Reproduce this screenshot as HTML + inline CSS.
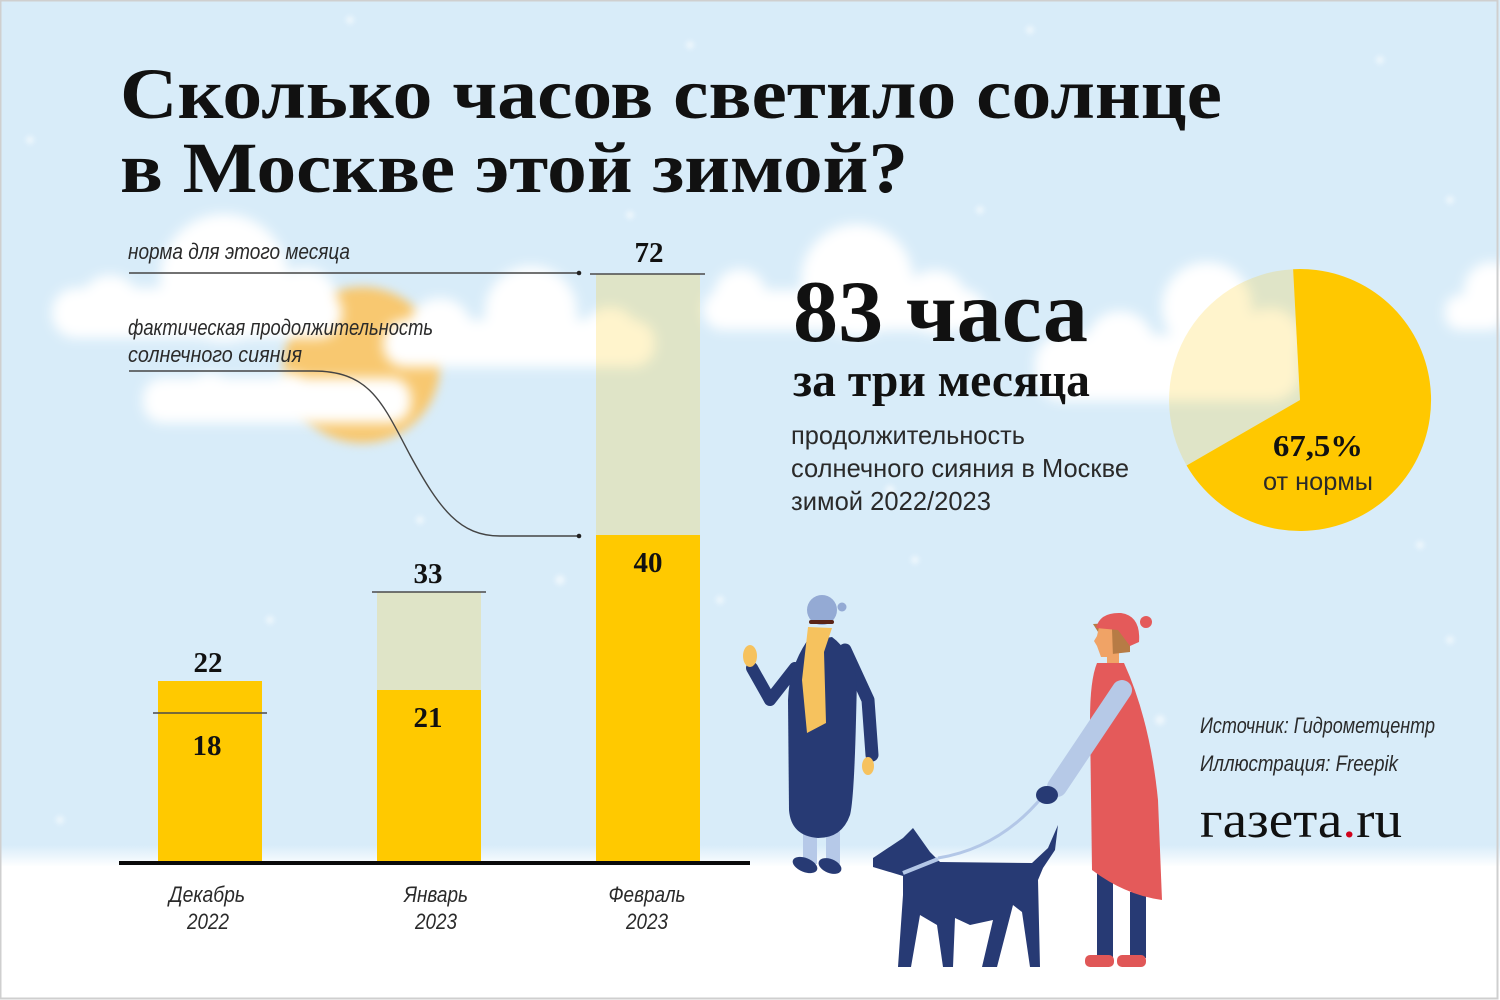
<!DOCTYPE html>
<html><head><meta charset="utf-8"><style>
html,body{margin:0;padding:0;background:#fff;}
svg{display:block;}
.serif{font-family:"Liberation Serif","DejaVu Serif",serif;font-weight:bold;fill:#111;}
.sans{font-family:"Liberation Sans Narrow","Liberation Sans","DejaVu Sans",sans-serif;fill:#2a2a2a;}
.it{font-style:italic;}
</style></head><body>
<svg width="1500" height="1000" viewBox="0 0 1500 1000" xmlns="http://www.w3.org/2000/svg">
<defs>
<filter id="blur" x="-20%" y="-20%" width="140%" height="140%"><feGaussianBlur stdDeviation="6"/></filter>
<filter id="blurs" x="-20%" y="-20%" width="140%" height="140%"><feGaussianBlur stdDeviation="5"/></filter>
<filter id="blur2" x="-50%" y="-50%" width="200%" height="200%"><feGaussianBlur stdDeviation="2.5"/></filter>
<linearGradient id="ground" x1="0" y1="0" x2="0" y2="1">
<stop offset="0" stop-color="#d8ecf9"/><stop offset="1" stop-color="#ffffff"/>
</linearGradient>
</defs>
<rect x="0" y="0" width="1500" height="1000" fill="#d8ecf9"/>
<rect x="0" y="845" width="1500" height="22" fill="url(#ground)"/>
<rect x="0" y="866" width="1500" height="134" fill="#ffffff"/>

<!-- sun -->
<circle cx="362" cy="365" r="78" fill="#f8c870" filter="url(#blurs)"/>

<!-- clouds -->
<g fill="#ffffff" filter="url(#blur)">
 <circle cx="224" cy="278" r="64"/>
 <circle cx="110" cy="305" r="30"/>
 <circle cx="305" cy="300" r="32"/>
 <rect x="52" y="288" width="290" height="50" rx="24"/>
 <circle cx="531" cy="312" r="46"/>
 <circle cx="440" cy="330" r="32"/>
 <circle cx="610" cy="335" r="28"/>
 <rect x="383" y="320" width="272" height="47" rx="22"/>
 <circle cx="210" cy="398" r="25"/>
 <circle cx="290" cy="395" r="22"/>
 <rect x="143" y="378" width="268" height="45" rx="20"/>
 <circle cx="857" cy="280" r="56"/>
 <circle cx="740" cy="295" r="26"/>
 <circle cx="935" cy="302" r="32"/>
 <rect x="703" y="290" width="282" height="40" rx="20"/>
 <circle cx="1207" cy="307" r="45"/>
 <circle cx="1120" cy="345" r="34"/>
 <circle cx="1270" cy="340" r="32"/>
 <rect x="1035" y="335" width="265" height="66" rx="28"/>
 <circle cx="1492" cy="290" r="28"/>
 <rect x="1445" y="295" width="60" height="35" rx="15"/>
</g>

<!-- snowflakes -->
<g fill="#ffffff" opacity="0.55" filter="url(#blur2)">
 <circle cx="350" cy="20" r="4"/><circle cx="690" cy="45" r="4"/><circle cx="1030" cy="30" r="4"/>
 <circle cx="1380" cy="60" r="4"/><circle cx="30" cy="140" r="4"/><circle cx="1450" cy="200" r="4"/>
 <circle cx="630" cy="215" r="4"/><circle cx="980" cy="210" r="4"/><circle cx="560" cy="580" r="5"/>
 <circle cx="915" cy="560" r="4"/><circle cx="1160" cy="720" r="5"/><circle cx="270" cy="620" r="4"/>
 <circle cx="420" cy="520" r="4"/><circle cx="720" cy="600" r="4"/><circle cx="1450" cy="640" r="4"/>
 <circle cx="890" cy="490" r="5"/><circle cx="1420" cy="545" r="4"/><circle cx="60" cy="820" r="4"/>
</g>

<!-- pie -->
<path d="M1300,400 L1186.6,465.5 A131,131 0 0 1 1293.1,269.2 Z" fill="#ffc800" opacity="0.2"/>
<path d="M1300,400 L1293.1,269.2 A131,131 0 1 1 1186.6,465.5 Z" fill="#ffc800"/>
<text class="serif" x="1318" y="456" font-size="31" text-anchor="middle" textLength="90" lengthAdjust="spacingAndGlyphs">67,5%</text>
<text class="sans" x="1318" y="490" font-size="25" text-anchor="middle" textLength="110" lengthAdjust="spacingAndGlyphs">от нормы</text>

<!-- title -->
<text class="serif" x="120" y="118" font-size="72" textLength="1102" lengthAdjust="spacingAndGlyphs">Сколько часов светило солнце</text>
<text class="serif" x="120" y="192" font-size="72" textLength="788" lengthAdjust="spacingAndGlyphs">в Москве этой зимой?</text>

<!-- right block -->
<text class="serif" x="793" y="341" font-size="88" textLength="295" lengthAdjust="spacingAndGlyphs">83 часа</text>
<text class="serif" x="793" y="396" font-size="48" textLength="297" lengthAdjust="spacingAndGlyphs">за три месяца</text>
<text class="sans" x="791" y="444" font-size="26" textLength="234" lengthAdjust="spacingAndGlyphs">продолжительность</text>
<text class="sans" x="791" y="477" font-size="26" textLength="338" lengthAdjust="spacingAndGlyphs">солнечного сияния в Москве</text>
<text class="sans" x="791" y="510" font-size="26" textLength="200" lengthAdjust="spacingAndGlyphs">зимой 2022/2023</text>

<!-- annotations -->
<text class="sans it" x="128" y="259" font-size="22" textLength="222" lengthAdjust="spacingAndGlyphs">норма для этого месяца</text>
<text class="sans it" x="128" y="335" font-size="22" textLength="305" lengthAdjust="spacingAndGlyphs">фактическая продолжительность</text>
<text class="sans it" x="128" y="362" font-size="22" textLength="174" lengthAdjust="spacingAndGlyphs">солнечного сияния</text>
<g stroke="#444" stroke-width="1.4" fill="none">
 <line x1="129" y1="273" x2="579" y2="273"/>
 <path d="M129,371 H313 C370,371 382,402 410,455 C440,510 460,536 500,536 H579"/>
</g>
<circle cx="579" cy="273" r="2.3" fill="#222"/>
<circle cx="579" cy="536" r="2.3" fill="#222"/>

<!-- bars -->
<rect x="158" y="681" width="104" height="181" fill="#ffc900"/>
<rect x="377" y="592" width="104" height="98" fill="#ffc800" opacity="0.2"/>
<rect x="377" y="690" width="104" height="172" fill="#ffc900"/>
<rect x="596" y="274" width="104" height="261" fill="#ffc800" opacity="0.2"/>
<rect x="596" y="535" width="104" height="327" fill="#ffc900"/>
<g stroke="#4a4a4a" stroke-width="1.5">
 <line x1="153" y1="713" x2="267" y2="713"/>
 <line x1="372" y1="592" x2="486" y2="592"/>
 <line x1="590" y1="274" x2="705" y2="274"/>
</g>
<rect x="119" y="861" width="631" height="4" fill="#0a0a0a"/>
<g class="serif" font-size="29" text-anchor="middle">
 <text x="208" y="672">22</text>
 <text x="207" y="755">18</text>
 <text x="428" y="583">33</text>
 <text x="428" y="727">21</text>
 <text x="649" y="262">72</text>
 <text x="648" y="572">40</text>
</g>
<g class="sans it" font-size="22" text-anchor="middle">
 <text x="207" y="902" textLength="76" lengthAdjust="spacingAndGlyphs">Декабрь</text>
 <text x="208" y="929" textLength="42" lengthAdjust="spacingAndGlyphs">2022</text>
 <text x="436" y="902" textLength="64" lengthAdjust="spacingAndGlyphs">Январь</text>
 <text x="436" y="929" textLength="42" lengthAdjust="spacingAndGlyphs">2023</text>
 <text x="647" y="902" textLength="77" lengthAdjust="spacingAndGlyphs">Февраль</text>
 <text x="647" y="929" textLength="42" lengthAdjust="spacingAndGlyphs">2023</text>
</g>

<!-- source -->
<text class="sans it" x="1200" y="733" font-size="22" textLength="235" lengthAdjust="spacingAndGlyphs" fill="#333">Источник: Гидрометцентр</text>
<text class="sans it" x="1200" y="771" font-size="22" textLength="198" lengthAdjust="spacingAndGlyphs" fill="#333">Иллюстрация: Freepik</text>
<text x="1200" y="837" font-size="52" font-family="Liberation Serif, DejaVu Serif, serif" fill="#111" textLength="202" lengthAdjust="spacingAndGlyphs">газета<tspan fill="#d0021b">.</tspan>ru</text>

<!-- person 1 -->
<g>
 <rect x="803" y="830" width="14" height="34" fill="#b6c9e8"/>
 <rect x="826" y="830" width="14" height="34" fill="#b6c9e8"/>
 <ellipse cx="805" cy="865" rx="13" ry="7" transform="rotate(22 805 865)" fill="#273a74"/>
 <ellipse cx="830" cy="866" rx="12" ry="7" transform="rotate(22 830 866)" fill="#273a74"/>
 <path d="M795,668 L770,700 L752,668" stroke="#273a74" stroke-width="12" fill="none" stroke-linecap="round" stroke-linejoin="round"/>
 <ellipse cx="750" cy="656" rx="7" ry="11" fill="#f6c25e"/>
 <path d="M845,650 L868,700 L872,755" stroke="#273a74" stroke-width="13" fill="none" stroke-linecap="round" stroke-linejoin="round"/>
 <ellipse cx="868" cy="766" rx="6" ry="9" fill="#f6c25e"/>
 <path d="M807,641 L832,637 Q850,650 857,680 L856,720 Q854,800 850,815 Q842,838 818,838 Q791,836 789,810 L788,700 Q789,668 807,641 Z" fill="#273a74"/>
 <path d="M808,627 L832,628 L824,652 L826,723 L807,733 L802,680 Z" fill="#f6c25e"/>
 <circle cx="822" cy="610" r="15" fill="#94aad4"/>
 <circle cx="842" cy="607" r="4.5" fill="#94aad4"/>
 <rect x="809" y="620" width="25" height="4" rx="2" fill="#5a2418"/>
</g>

<!-- dog -->
<path d="M938,858 Q1000,848 1043,796" stroke="#b3c7e7" stroke-width="3" fill="none"/>
<path d="M873,858 L903,838 L913,828 L930,852 L940,862 L1032,863 L1048,848 L1058,825 L1055,850 L1043,868 L1038,880 L1040,967 L1030,967 L1022,912 L1013,905 L997,967 L982,967 L993,920 L970,925 L955,918 L953,967 L943,967 L937,925 L920,915 L911,967 L898,967 L903,895 L903,876 L873,867 Z" fill="#273a74"/>
<line x1="903" y1="873" x2="938" y2="859" stroke="#b3c7e7" stroke-width="4"/>

<!-- person 2 -->
<g>
 <rect x="1097" y="872" width="16" height="86" fill="#273a74"/>
 <rect x="1130" y="892" width="16" height="66" fill="#273a74"/>
 <rect x="1085" y="955" width="29" height="12" rx="5" fill="#e05757"/>
 <rect x="1117" y="955" width="29" height="12" rx="5" fill="#e05757"/>
 <rect x="1107" y="646" width="12" height="20" fill="#f0a366"/>
 <path d="M1097,663 L1124,663 Q1150,720 1158,800 L1162,900 Q1125,895 1092,870 L1090,720 Q1090,680 1097,663 Z" fill="#e45a5a"/>
 <path d="M1122,690 L1057,787" stroke="#b6c9e7" stroke-width="20" stroke-linecap="round"/>
 <ellipse cx="1047" cy="795" rx="11" ry="9" fill="#273a74"/>
 <path d="M1093,624 L1130,622 L1130,652 L1112,654 Z" fill="#b77b45"/>
 <path d="M1099,627 L1112,629 L1113,657 L1101,657 L1097,646 L1094,641 L1097,636 Z" fill="#f0a366"/>
 <path d="M1096,628 Q1100,612 1121,613 Q1141,616 1139,642 L1130,646 L1118,630 Z" fill="#e45a5a"/>
 <circle cx="1146" cy="622" r="6" fill="#e45a5a"/>
</g>

<!-- frame -->
<rect x="0.5" y="0.5" width="1497" height="998" fill="none" stroke="#cfcfcf" stroke-width="2"/>
</svg>
</body></html>
